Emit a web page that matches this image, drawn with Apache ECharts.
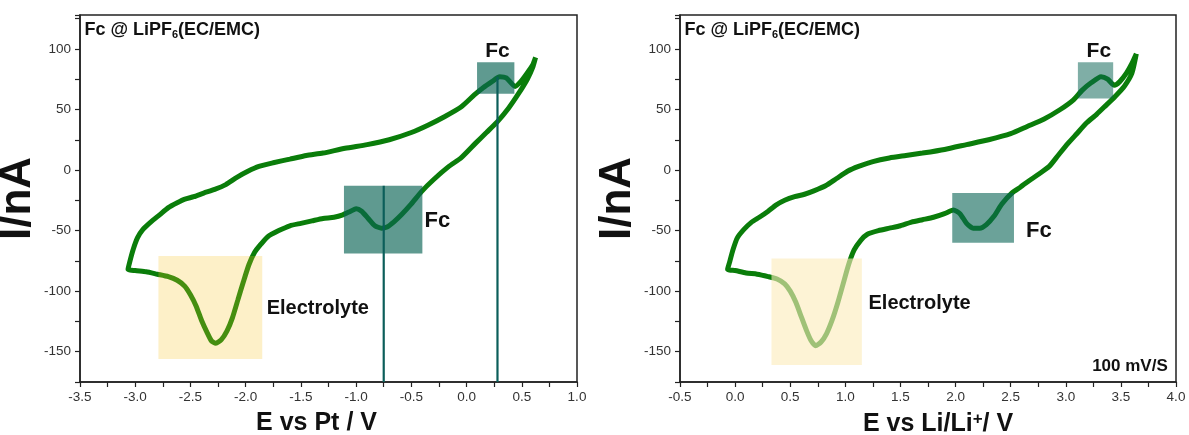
<!DOCTYPE html>
<html>
<head>
<meta charset="utf-8">
<script src="https://cdn.jsdelivr.net/npm/echarts@6/dist/echarts.min.js"></script>
<style>
  html, body { margin: 0; padding: 0; background: #fff; }
  #chart { width: 1189px; height: 435px; }
</style>
</head>
<body>
<div id="chart"></div>
<script>
// ---- left panel: E vs Pt ----
// cathodic branch, from the upper vertex down to the lower vertex
const ptCathodicE = [0.625, 0.6, 0.55, 0.47, 0.38, 0.28, 0.18, 0.08, -0.05, -0.16, -0.3, -0.41, -0.5, -0.59, -0.66, -0.72, -0.77, -0.83, -0.89, -0.95, -1.0, -1.05, -1.12, -1.2, -1.3, -1.4, -1.5, -1.6, -1.7, -1.8, -1.86, -1.92, -1.97, -2.02, -2.07, -2.12, -2.17, -2.22, -2.27, -2.31, -2.35, -2.4, -2.45, -2.5, -2.55, -2.62, -2.7, -2.8, -2.9, -3.0, -3.065]
const ptCathodicI = [93, 85, 75, 63, 51, 40, 31, 22, 10, 3, -8, -18, -28, -37, -43, -47, -48, -46, -40, -34, -32, -34, -37, -39, -40, -42, -44, -46, -50, -55, -61, -68, -78, -92, -107, -122, -133, -140, -143, -141, -134, -124, -112, -103, -96, -91, -88, -86, -84, -83, -82]
// anodic branch, from the lower vertex back up
const ptAnodicE = [-3.065, -3.05, -3.02, -2.98, -2.93, -2.86, -2.78, -2.7, -2.62, -2.55, -2.47, -2.38, -2.28, -2.18, -2.08, -1.98, -1.88, -1.75, -1.6, -1.45, -1.3, -1.1, -0.9, -0.7, -0.5, -0.35, -0.2, -0.05, 0.07, 0.15, 0.23, 0.3, 0.36, 0.44, 0.49, 0.54, 0.6, 0.625]
const ptAnodicI = [-82, -76, -66, -56, -49, -43, -37, -31, -27, -24, -22, -19, -16, -12, -6, -1, 3, 6, 9, 12, 14, 18, 21, 25, 31, 37, 44, 52, 62, 68, 73, 77, 76, 69, 73, 79, 87, 93]

// ---- right panel: E vs Li/Li+ ----
const liCathodicE = [3.64, 3.6, 3.53, 3.45, 3.36, 3.28, 3.19, 3.1, 3.02, 2.93, 2.85, 2.76, 2.68, 2.59, 2.51, 2.42, 2.35, 2.28, 2.22, 2.16, 2.1, 2.04, 1.98, 1.9, 1.8, 1.7, 1.6, 1.5, 1.4, 1.3, 1.2, 1.14, 1.08, 1.03, 0.98, 0.93, 0.88, 0.83, 0.78, 0.73, 0.69, 0.65, 0.6, 0.55, 0.5, 0.45, 0.38, 0.3, 0.2, 0.1, 0.0, -0.068]
const liCathodicI = [96, 80, 69, 61, 53, 46, 39, 30, 22, 12, 3, -3, -8, -14, -19, -28, -38, -45, -48, -48, -44, -36, -33, -36, -39, -41, -43, -46, -48, -50, -53, -58, -66, -78, -94, -110, -124, -135, -142, -145, -141, -133, -121, -109, -100, -94, -90, -88, -86, -85, -83, -82]
const liAnodicE = [-0.068, -0.05, -0.02, 0.02, 0.08, 0.15, 0.22, 0.3, 0.37, 0.45, 0.54, 0.63, 0.72, 0.82, 0.92, 1.02, 1.12, 1.25, 1.4, 1.55, 1.7, 1.9, 2.1, 2.3, 2.5, 2.65, 2.8, 2.95, 3.07, 3.15, 3.23, 3.32, 3.38, 3.44, 3.49, 3.55, 3.6, 3.64]
const liAnodicI = [-82, -76, -66, -56, -49, -43, -39, -34, -29, -25, -22, -20, -17, -13, -7, -1, 3, 7, 10, 12, 14, 17, 21, 25, 30, 36, 42, 50, 58, 66, 72, 77, 75, 70, 73, 80, 88, 96]

// highlight boxes [E0, I0, E1, I1]
const ptBoxes = [[-2.79, -156, -1.85, -71], [-1.11, -69, -0.40, -13], [0.095, 63, 0.433, 89]]
const liBoxes = [[0.33, -161, 1.15, -73], [1.97, -60, 2.53, -19], [3.11, 59, 3.43, 89]]
// peak markers [E, top of line]
const ptPeaks = [[-0.75, -13], [0.28, 77]]
// annotation anchors [E, I]
const ptNotes = [[-3.46, 116], [0.28, 98], [-0.38, -42], [-1.81, -114]]
const liNotes = [[-0.46, 116], [3.3, 98], [2.64, -50], [1.21, -110], [3.925, -162]]
const ptNoteText = ['Fc @ LiPF{sub|6}(EC/EMC)', 'Fc', 'Fc', 'Electrolyte']
const liNoteText = ['Fc @ LiPF{sub|6}(EC/EMC)', 'Fc', 'Fc', 'Electrolyte', '100 mV/S']

const FONT = '"Liberation Sans", Arial, sans-serif'
const noteStyles = [
  { size: 18, align: 'left' },
  { size: 21, align: 'center' },
  { size: 22, align: 'left' },
  { size: 20, align: 'left' },
  { size: 17, align: 'right' }
]
const ptBoxFill = ['rgba(247,195,35,0.25)', 'rgba(9,100,85,0.65)', 'rgba(9,100,85,0.65)']
const liBoxFill = ['rgba(252,236,188,0.62)', 'rgba(9,100,85,0.6)', 'rgba(9,100,85,0.52)']

const loop = (e1, i1, e2, i2) => e1.map((e, k) => [e, i1[k]]).concat(e2.map((e, k) => [e, i2[k]]))

const chart = echarts.init(document.getElementById('chart'))

function xAxisOf(idx, min, max, name, pad) {
  return {
    gridIndex: idx,
    type: 'value',
    min: min,
    max: max,
    interval: 0.25,
    name: name,
    nameLocation: 'middle',
    nameGap: 29,
    nameTextStyle: {
      fontSize: 25, fontWeight: 'bold', color: '#111', fontFamily: FONT, padding: pad,
      rich: { sup: { fontSize: 17, fontWeight: 'bold', color: '#111', verticalAlign: 'top', padding: [0, 0, 9, 0] } }
    },
    axisLine: { show: true, onZero: false, lineStyle: { color: '#222', width: 1.5 } },
    axisTick: { show: true, inside: false, length: 5, lineStyle: { color: '#222', width: 1.2 } },
    axisLabel: {
      color: '#333', fontSize: 13.5, fontFamily: FONT, margin: 8,
      formatter: v => (Math.abs(v * 2 - Math.round(v * 2)) < 1e-6 ? v.toFixed(1) : '')
    },
    splitLine: { show: false }
  }
}

function yAxisOf(idx, gap) {
  return {
    gridIndex: idx,
    type: 'value',
    min: -175,
    max: 128,
    interval: 25,
    name: 'I/nA',
    nameLocation: 'middle',
    nameGap: gap,
    nameTextStyle: { fontSize: 44, fontWeight: 'bold', color: '#111', fontFamily: FONT },
    axisLine: { show: true, onZero: false, lineStyle: { color: '#222', width: 1.5 } },
    axisTick: { show: true, inside: false, length: 5, lineStyle: { color: '#222', width: 1.2 } },
    axisLabel: {
      color: '#333', fontSize: 13.5, fontFamily: FONT, margin: 9,
      formatter: v => (v % 50 === 0 ? String(v) : '')
    },
    splitLine: { show: false }
  }
}

function curveSeries(idx, data) {
  return {
    type: 'line',
    xAxisIndex: idx,
    yAxisIndex: idx,
    data: data,
    showSymbol: false,
    smooth: 0.2,
    z: 2,
    lineStyle: { color: '#0a7d0a', width: 5 },
    animation: false
  }
}

function boxSeries(idx, boxes, fills) {
  return {
    type: 'custom',
    xAxisIndex: idx,
    yAxisIndex: idx,
    data: boxes,
    encode: { x: [0, 2], y: [1, 3] },
    z: 3,
    silent: true,
    animation: false,
    renderItem: (params, api) => {
      const p0 = api.coord([api.value(0), api.value(1)])
      const p1 = api.coord([api.value(2), api.value(3)])
      return {
        type: 'rect',
        shape: {
          x: Math.min(p0[0], p1[0]), y: Math.min(p0[1], p1[1]),
          width: Math.abs(p1[0] - p0[0]), height: Math.abs(p1[1] - p0[1])
        },
        style: { fill: fills[params.dataIndex] }
      }
    }
  }
}

function peakSeries(idx, peaks) {
  return {
    type: 'custom',
    xAxisIndex: idx,
    yAxisIndex: idx,
    data: peaks,
    encode: { x: 0, y: 1 },
    z: 4,
    silent: true,
    animation: false,
    renderItem: (params, api) => {
      const top = api.coord([api.value(0), api.value(1)])
      const bottom = api.coord([api.value(0), -175])
      return {
        type: 'line',
        shape: { x1: top[0], y1: top[1], x2: bottom[0], y2: bottom[1] },
        style: { stroke: '#0b5e5a', lineWidth: 2.2 }
      }
    }
  }
}

function noteSeries(idx, notes, texts) {
  return {
    type: 'custom',
    xAxisIndex: idx,
    yAxisIndex: idx,
    data: notes,
    encode: { x: 0, y: 1 },
    z: 5,
    silent: true,
    animation: false,
    renderItem: (params, api) => {
      const p = api.coord([api.value(0), api.value(1)])
      const st = noteStyles[params.dataIndex]
      return {
        type: 'text',
        x: p[0],
        y: p[1],
        style: {
          text: texts[params.dataIndex],
          fill: '#111',
          fontSize: st.size,
          fontWeight: 'bold',
          fontFamily: FONT,
          align: st.align,
          textAlign: st.align,
          verticalAlign: 'middle',
          textVerticalAlign: 'middle',
          rich: {
            sub: { fontSize: 11, fontWeight: 'bold', fontFamily: FONT, fill: '#111', padding: [11, 0, 0, 0] }
          }
        }
      }
    }
  }
}

chart.setOption({
  backgroundColor: '#fff',
  animation: false,
  grid: [
    { left: 80, top: 15, width: 497, height: 367, outerBoundsMode: 'none', containLabel: false, show: true, borderColor: '#222', borderWidth: 1.5, backgroundColor: 'transparent' },
    { left: 680, top: 15, width: 496, height: 367, outerBoundsMode: 'none', containLabel: false, show: true, borderColor: '#222', borderWidth: 1.5, backgroundColor: 'transparent' }
  ],
  xAxis: [
    xAxisOf(0, -3.5, 1.0, 'E vs Pt / V', [0, 24, 0, 0]),
    xAxisOf(1, -0.5, 4.0, 'E vs Li/Li{sup|+}/ V', [0, 0, 0, 20])
  ],
  yAxis: [yAxisOf(0, 26), yAxisOf(1, 20)],
  series: [
    curveSeries(0, loop(ptCathodicE, ptCathodicI, ptAnodicE, ptAnodicI)),
    boxSeries(0, ptBoxes, ptBoxFill),
    peakSeries(0, ptPeaks),
    noteSeries(0, ptNotes, ptNoteText),
    curveSeries(1, loop(liCathodicE, liCathodicI, liAnodicE, liAnodicI)),
    boxSeries(1, liBoxes, liBoxFill),
    noteSeries(1, liNotes, liNoteText)
  ]
})
</script>
</body>
</html>
